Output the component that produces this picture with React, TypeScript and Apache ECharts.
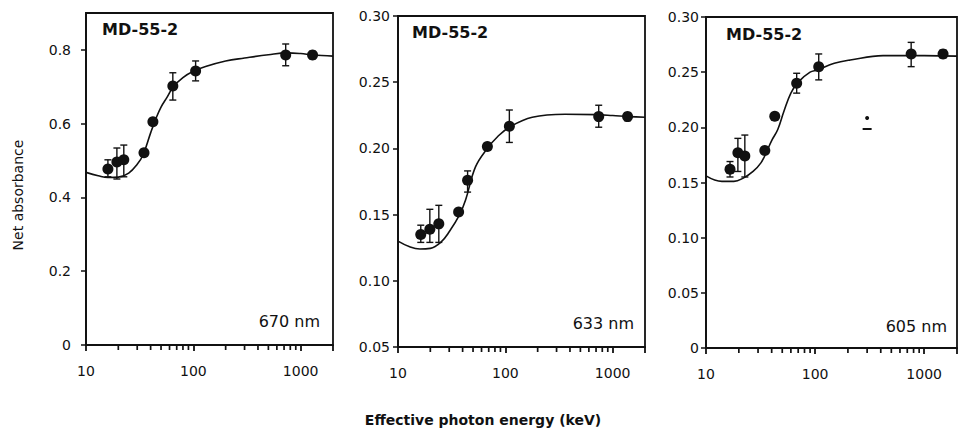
import React, { useEffect, useRef } from 'react';
import * as echarts from 'echarts';

// ---------- data ----------
const panelLabels = ['MD-55-2', 'MD-55-2', 'MD-55-2'];
const wavelengthLabels = ['670 nm', '633 nm', '605 nm'];
const xTickLabels = [10, 100, 1000];
const xMinorTicks = [20, 30, 40, 50, 60, 70, 80, 90, 200, 300, 400, 500, 600, 700, 800, 900];
const yAxisTitle = 'Net absorbance';
const xAxisTitle = 'Effective photon energy (keV)';

const yTicks1 = [0, 0.2, 0.4, 0.6, 0.8];
const yTicks2 = [0.05, 0.1, 0.15, 0.2, 0.25, 0.3];
const yTicks3 = [0, 0.05, 0.1, 0.15, 0.2, 0.25, 0.3];

// 670 nm
const energy1 = [16.0, 19.4, 22.5, 34.7, 42.0, 64.4, 105, 725, 1290];
const absorb1 = [0.477, 0.496, 0.502, 0.521, 0.605, 0.702, 0.743, 0.786, 0.786];
const errLow1 = [0.456, 0.45, 0.456, 0.521, 0.605, 0.664, 0.716, 0.757, 0.776];
const errHigh1 = [0.502, 0.534, 0.542, 0.521, 0.605, 0.738, 0.77, 0.816, 0.796];
const fitX1 = [10, 13, 16, 20, 25, 30, 34, 40, 45, 50, 57, 65, 80, 100, 130, 200, 300, 500, 750, 1000, 1300, 2000];
const fitY1 = [0.468, 0.459, 0.454, 0.455, 0.466, 0.49, 0.515, 0.575, 0.615, 0.645, 0.672, 0.7, 0.725, 0.742, 0.755, 0.77, 0.778, 0.787, 0.792, 0.79, 0.786, 0.783];

// 633 nm
const energy2 = [16.3, 19.8, 24.0, 36.7, 44.5, 68, 109, 741, 1376];
const absorb2 = [0.135, 0.139, 0.143, 0.152, 0.176, 0.2015, 0.2167, 0.224, 0.224];
const errLow2 = [0.129, 0.129, 0.129, 0.152, 0.167, 0.2015, 0.2045, 0.216, 0.221];
const errHigh2 = [0.142, 0.154, 0.157, 0.152, 0.183, 0.2015, 0.229, 0.2326, 0.227];
const fitX2 = [10, 13, 16, 20, 25, 30, 37.5, 42.6, 52.7, 68, 85, 109, 178, 360, 700, 1000, 1400, 2000];
const fitY2 = [0.13, 0.1255, 0.124, 0.1245, 0.129, 0.137, 0.15, 0.161, 0.186, 0.2, 0.209, 0.216, 0.2235, 0.2258, 0.2255, 0.2248, 0.224, 0.2235];

// 605 nm
const energy3 = [16.6, 19.6, 22.7, 34.6, 42.7, 67.8, 108, 760, 1490];
const absorb3 = [0.162, 0.177, 0.174, 0.179, 0.21, 0.24, 0.255, 0.2665, 0.2665];
const errLow3 = [0.155, 0.16, 0.155, 0.179, 0.21, 0.231, 0.243, 0.255, 0.263];
const errHigh3 = [0.169, 0.19, 0.193, 0.179, 0.21, 0.249, 0.2665, 0.277, 0.27];
const fitX3 = [10, 14, 18, 22, 27, 32, 36, 40, 45.5, 52, 60, 70, 90, 105, 150, 210, 420, 1000, 2000];
const fitY3 = [0.156, 0.151, 0.151, 0.154, 0.16, 0.168, 0.178, 0.188, 0.198, 0.215, 0.231, 0.241, 0.25, 0.252, 0.258, 0.261, 0.265, 0.265, 0.2645];
// stray specks printed in the 605 nm panel
const speckX3 = [300];
const speckDotY3 = [0.2085];
const speckDashY3 = [0.1985];

// ---------- layout ----------
const layouts = [
  { left: 86, top: 13, width: 247, height: 332, yMin: 0, yMax: 0.9, yInt: 0.2, yTicks: yTicks1, dec: 1, yMargin: 15, label: [102, 29], wl: [320, 321] },
  { left: 398, top: 16, width: 247, height: 331, yMin: 0.05, yMax: 0.3, yInt: 0.05, yTicks: yTicks2, dec: 2, yMargin: 8, label: [412, 32], wl: [634, 323] },
  { left: 706, top: 17, width: 251, height: 331, yMin: 0, yMax: 0.3, yInt: 0.05, yTicks: yTicks3, dec: 2, yMargin: 7, label: [726, 34], wl: [947, 326] },
];

const panels = [
  { ex: energy1, ab: absorb1, lo: errLow1, hi: errHigh1, fx: fitX1, fy: fitY1 },
  { ex: energy2, ab: absorb2, lo: errLow2, hi: errHigh2, fx: fitX2, fy: fitY2 },
  { ex: energy3, ab: absorb3, lo: errLow3, hi: errHigh3, fx: fitX3, fy: fitY3 },
];

const INK = '#111';
const FONT = 'DejaVu Sans';

function buildOption() {
  const grid: any[] = [];
  const xAxis: any[] = [];
  const yAxis: any[] = [];
  const series: any[] = [];
  const graphic: any[] = [];

  layouts.forEach((L, i) => {
    const P = panels[i];
    grid.push({
      left: L.left, top: L.top, width: L.width, height: L.height,
      show: true, borderColor: INK, borderWidth: 1.8, backgroundColor: 'transparent',
    });
    xAxis.push({
      type: 'log', gridIndex: i, min: 10, max: 2000, logBase: 10,
      axisLine: { show: true, lineStyle: { color: INK, width: 1.8 } },
      axisTick: { show: true, inside: false, length: 6, lineStyle: { color: INK, width: 1.8 } },
      axisLabel: {
        show: true, margin: 19, fontFamily: FONT, fontSize: 14, color: INK,
        formatter: (v: number) => {
          const r = Math.round(v);
          return xTickLabels.includes(r) ? String(r) : '';
        },
      },
      splitLine: { show: false },
      minorTick: { show: false },
    });
    yAxis.push({
      type: 'value', gridIndex: i, min: L.yMin, max: L.yMax, interval: L.yInt,
      axisLine: { show: true, lineStyle: { color: INK, width: 1.8 } },
      axisTick: { show: true, inside: false, length: 5, customValues: L.yTicks, lineStyle: { color: INK, width: 1.5 } },
      axisLabel: {
        show: true, margin: L.yMargin, fontFamily: FONT, fontSize: 14, color: INK,
        customValues: L.yTicks,
        formatter: (v: number) => (Math.abs(v) < 1e-9 ? '0' : v.toFixed(L.dec)),
      },
      splitLine: { show: false },
    });

    // fitted curve
    series.push({
      type: 'line', xAxisIndex: i, yAxisIndex: i, smooth: 0.4, showSymbol: false, symbol: 'none',
      data: P.fx.map((x, k) => [x, P.fy[k]]),
      lineStyle: { color: INK, width: 1.6 }, z: 2, silent: true,
    });
    // error bars
    series.push({
      type: 'custom', xAxisIndex: i, yAxisIndex: i, z: 3, silent: true, clip: false,
      encode: { x: 0, y: [1, 2] },
      data: P.ex.map((x, k) => [x, P.lo[k], P.hi[k]]),
      renderItem: (params: any, api: any) => {
        const x = api.value(0);
        const lo = api.value(1);
        const hi = api.value(2);
        if (hi - lo < 1e-9) return { type: 'group', children: [] };
        const a = api.coord([x, lo]);
        const b = api.coord([x, hi]);
        const w = 3.5;
        const st = { stroke: INK, lineWidth: 1.4 };
        return {
          type: 'group',
          children: [
            { type: 'line', shape: { x1: a[0], y1: a[1], x2: b[0], y2: b[1] }, style: st },
            { type: 'line', shape: { x1: a[0] - w, y1: a[1], x2: a[0] + w, y2: a[1] }, style: st },
            { type: 'line', shape: { x1: b[0] - w, y1: b[1], x2: b[0] + w, y2: b[1] }, style: st },
          ],
        };
      },
    });
    // points
    series.push({
      type: 'scatter', xAxisIndex: i, yAxisIndex: i, symbol: 'circle', symbolSize: 11, z: 4, silent: true,
      itemStyle: { color: INK, opacity: 1 },
      data: P.ex.map((x, k) => [x, P.ab[k]]),
    });
    // minor log ticks hanging below the x axis
    series.push({
      type: 'scatter', xAxisIndex: i, yAxisIndex: i, z: 6, silent: true, clip: false,
      symbol: 'rect', symbolSize: [1.7, 5], symbolOffset: [0, 2.5],
      itemStyle: { color: INK, opacity: 1 },
      data: xMinorTicks.map((v) => [v, L.yMin]),
    });

    graphic.push({
      type: 'text', x: L.label[0], y: L.label[1],
      style: { text: panelLabels[i], fontFamily: FONT, fontSize: 16, fontWeight: 'bold', fill: INK, textAlign: 'left', textVerticalAlign: 'middle' },
    });
    graphic.push({
      type: 'text', x: L.wl[0], y: L.wl[1],
      style: { text: wavelengthLabels[i], fontFamily: FONT, fontSize: 16, fill: INK, textAlign: 'right', textVerticalAlign: 'middle' },
    });
  });

  // specks in the third panel
  series.push({
    type: 'scatter', xAxisIndex: 2, yAxisIndex: 2, symbol: 'circle', symbolSize: 4, silent: true,
    itemStyle: { color: INK, opacity: 1 }, data: speckX3.map((x, k) => [x, speckDotY3[k]]),
  });
  series.push({
    type: 'scatter', xAxisIndex: 2, yAxisIndex: 2, symbol: 'rect', symbolSize: [9, 2], silent: true,
    itemStyle: { color: INK, opacity: 1 }, data: speckX3.map((x, k) => [x, speckDashY3[k]]),
  });

  graphic.push({
    type: 'text', x: 18, y: 195, rotation: Math.PI / 2,
    style: { text: yAxisTitle, fontFamily: FONT, fontSize: 14, fill: INK, textAlign: 'center', textVerticalAlign: 'middle' },
  });
  graphic.push({
    type: 'text', x: 483, y: 420,
    style: { text: xAxisTitle, fontFamily: FONT, fontSize: 14, fontWeight: 'bold', fill: INK, textAlign: 'center', textVerticalAlign: 'middle' },
  });

  return {
    animation: false,
    backgroundColor: '#fff',
    grid, xAxis, yAxis, series, graphic,
  };
}

export default function App() {
  const ref = useRef<HTMLDivElement>(null);
  useEffect(() => {
    if (!ref.current) return;
    const chart = echarts.init(ref.current, undefined, { renderer: 'svg' });
    chart.setOption(buildOption() as any);
    return () => chart.dispose();
  }, []);
  return (
    <div
      ref={ref}
      style={{ position: 'fixed', left: 0, top: 0, width: 965, height: 429, background: '#fff' }}
    />
  );
}
